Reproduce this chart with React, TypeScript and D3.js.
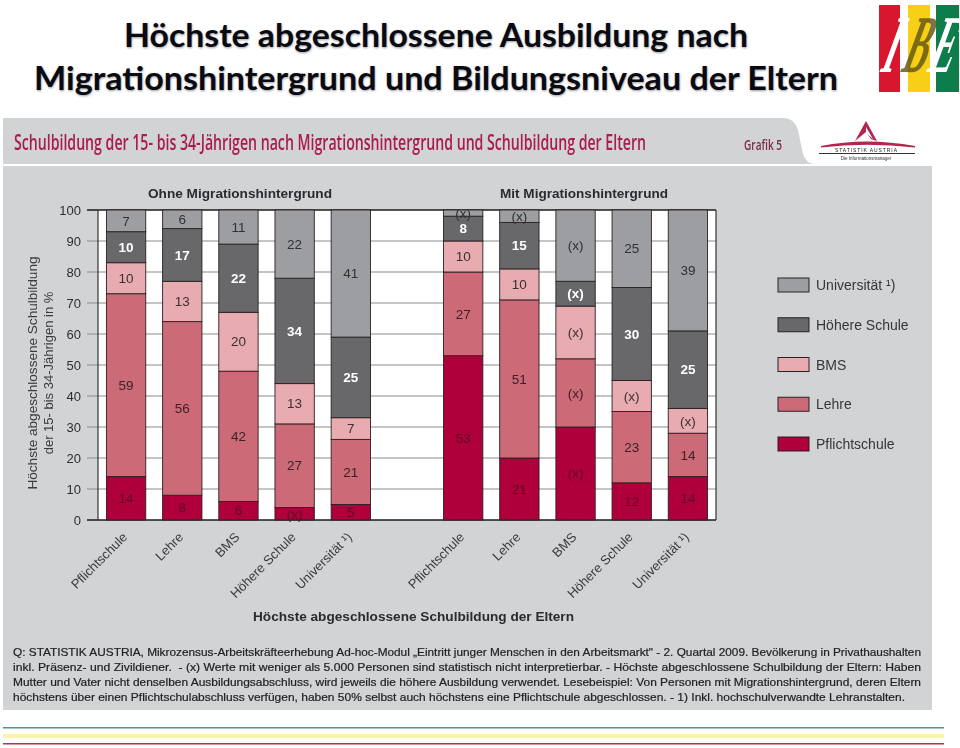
import React from "react";
import * as d3 from "d3";

const slots = ["o1","o2","o3","o4","o5","gap","m1","m2","m3","m4","m5"];
const categories = ["Pflichtschule","Lehre","BMS","Höhere Schule","Universität ¹)","","Pflichtschule","Lehre","BMS","Höhere Schule","Universität ¹)"];
const pflicht = [14,8,6,4,5,0,53,20,30,12,14];
const lehre = [59,56,42,27,21,0,27,51,22,23,14];
const bms = [10,13,19,13,7,0,10,10,17,10,8];
const hoehere = [10,17,22,34,26,0,8,15,8,30,25];
const uni = [7,6,11,22,41,0,2,4,23,25,39];
const pflichtLabels = ["14","8","6","(x)","5","","53","21","(x)","12","14"];
const lehreLabels = ["59","56","42","27","21","","27","51","(x)","23","14"];
const bmsLabels = ["10","13","20","13","7","","10","10","(x)","(x)","(x)"];
const hoehereLabels = ["10","17","22","34","25","","8","15","(x)","30","25"];
const uniLabels = ["7","6","11","22","41","","(x)","(x)","(x)","25","39"];
const seriesNames = ["Pflichtschule","Lehre","BMS","Höhere Schule","Universität ¹)"];
const seriesColors = ["#b0003a","#cc6b78","#e8abb0","#67686b","#9c9ea2"];
const labelColors = ["#5a0f28","#3a2226","#3a3033","#ffffff","#2f3033"];
const yTicks = [0,10,20,30,40,50,60,70,80,90,100];
const footer = [
  "Q: STATISTIK AUSTRIA, Mikrozensus-Arbeitskräfteerhebung Ad-hoc-Modul „Eintritt junger Menschen in den Arbeitsmarkt\" - 2. Quartal 2009. Bevölkerung in Privathaushalten",
  "inkl. Präsenz- und Zivildiener.  - (x) Werte mit weniger als 5.000 Personen sind statistisch nicht interpretierbar. - Höchste abgeschlossene Schulbildung der Eltern: Haben",
  "Mutter und Vater nicht denselben Ausbildungsabschluss, wird jeweils die höhere Ausbildung verwendet. Lesebeispiel: Von Personen mit Migrationshintergrund, deren Eltern",
  "höchstens über einen Pflichtschulabschluss verfügen, haben 50% selbst auch höchstens eine Pflichtschule abgeschlossen. - 1) Inkl. hochschulverwandte Lehranstalten.",
];
const footerWidths = [908,908,908,892];

const valueSeries = [pflicht,lehre,bms,hoehere,uni];
const labelSeries = [pflichtLabels,lehreLabels,bmsLabels,hoehereLabels,uniLabels];
const rows = slots.map((s,i)=>{
  const r: any = {slot:s};
  seriesNames.forEach((n,k)=>{ r[n]=valueSeries[k][i]; });
  return r;
});
const sans = "'Liberation Sans', Arial, sans-serif";

export default function App() {
  const x = d3.scaleBand().domain(slots).range([98,716]).paddingInner(0.3).paddingOuter(0.15);
  const y = d3.scaleLinear().domain([0,100]).range([520,210]);
  const stacked = d3.stack().keys(seriesNames)(rows as any);
  const legendY = d3.scalePoint().domain([...seriesNames].reverse()).range([285,444]);
  const titleLines = [
    {t:"Höchste abgeschlossene Ausbildung nach", y:47, w:624},
    {t:"Migrationshintergrund und Bildungsniveau der Eltern", y:90, w:804},
  ];
  const logoLetters = [
    {t:"I", x:885, fill:"#fff", o:1},
    {t:"B", x:911, fill:"#5d5212", o:0.8},
    {t:"E", x:937, fill:"#fff", o:1},
  ];
  return (
    <svg width={960} height={748} viewBox="0 0 960 748" style={{position:"absolute",left:0,top:0,display:"block"}}>
      <defs>
        <filter id="soft" x="-5%" y="-5%" width="110%" height="110%"><feGaussianBlur stdDeviation="0.35"/></filter>
        <filter id="soft2" x="-5%" y="-20%" width="110%" height="140%"><feGaussianBlur stdDeviation="1.1"/></filter>
      </defs>
      <rect width={960} height={748} fill="#fff"/>
      {titleLines.map(l=>(
        <g key={l.t} fontFamily="Lato, sans-serif" fontWeight={700} fontSize={33}>
          <text x={436.5} y={l.y+1} textAnchor="middle" fill="#9a9a9a" filter="url(#soft2)" textLength={l.w} lengthAdjust="spacingAndGlyphs">{l.t}</text>
          <text x={436} y={l.y} textAnchor="middle" fill="#0a0a12" textLength={l.w} lengthAdjust="spacingAndGlyphs">{l.t}</text>
        </g>
      ))}
      {/* IBE logo */}
      <g filter="url(#soft)">
        <rect x={879} y={5} width={21} height={87} fill="#d8122f"/>
        <rect x={908} y={5} width={22} height={87} fill="#f6cf12"/>
        <rect x={936} y={5} width={23} height={87} fill="#0f7d4c"/>
        <g fontFamily="'Liberation Serif', serif" fontWeight={700} fontSize={82} textAnchor="middle">
          {logoLetters.map(l=>(
            <text key={l.t} transform={`translate(${l.x},72) skewX(-20) scale(0.42,1)`} fill={l.fill} opacity={l.o}>{l.t}</text>
          ))}
        </g>
      </g>
      <g filter="url(#soft)">
        {/* panel */}
        <path d="M3 118 H784 Q794 118 798 130 L803 154 Q806 164 816 164 H3 Z" fill="#d1d3d4"/>
        <rect x={3} y={166} width={929} height={544} fill="#d1d3d4"/>
        <text x={14} y={150} fontFamily="'Open Sans',sans-serif" fontWeight={600} fontSize={22} fill="#ab1a4b" textLength={632} lengthAdjust="spacingAndGlyphs">Schulbildung der 15- bis 34-Jährigen nach Migrationshintergrund und Schulbildung der Eltern</text>
        <text x={744} y={150} fontFamily="'Open Sans',sans-serif" fontWeight={600} fontSize={15} fill="#7c2b42" textLength={38} lengthAdjust="spacingAndGlyphs">Grafik 5</text>
        {/* Statistik Austria logo */}
        <path d="M866 121 L855 141 L866 132 L871 139 L877 141 Z" fill="#b2254f"/>
        <path d="M866 127 L873 139 L866 133 Z" fill="#fff"/>
        <path d="M821 146 Q866 137 915 146 L915 147.5 Q866 142 821 147.5 Z" fill="#b2254f"/>
        <text x={866} y={151.5} textAnchor="middle" fontFamily={sans} fontSize={5} fill="#222" textLength={62} lengthAdjust="spacing">STATISTIK AUSTRIA</text>
        <rect x={819} y={153} width={96} height={1} fill="#333"/>
        <text x={866} y={160} textAnchor="middle" fontFamily={sans} fontSize={4.5} fill="#333">Die Informationsmanager</text>

        {/* plot */}
        <text x={240} y={198} textAnchor="middle" fontFamily={sans} fontWeight={700} fontSize={13} fill="#2a2b30" textLength={184} lengthAdjust="spacingAndGlyphs">Ohne Migrationshintergrund</text>
        <text x={584} y={198} textAnchor="middle" fontFamily={sans} fontWeight={700} fontSize={13} fill="#2a2b30" textLength={168} lengthAdjust="spacingAndGlyphs">Mit Migrationshintergrund</text>
        <rect x={98} y={y(100)} width={618} height={y(0)-y(100)} fill="#fff"/>
        {yTicks.map(t=>(
          <g key={t}>
            <line x1={87} x2={716} y1={y(t)} y2={y(t)} stroke={t===0||t===100?"#1c1c1c":"#8a8b8d"} strokeWidth={t===0||t===100?1.3:1}/>
            <text x={81} y={y(t)+5} textAnchor="end" fontFamily={sans} fontSize={13} fill="#2d2e30">{t}</text>
          </g>
        ))}
        <line x1={98} x2={98} y1={210} y2={520} stroke="#333" strokeWidth={1.2}/>
        <line x1={716} x2={716} y1={210} y2={520} stroke="#333" strokeWidth={1.2}/>
        {stacked.map((s,k)=>s.map((d,i)=>{
          const slot = slots[i];
          if (slot==="gap") return null;
          const top = y(d[1]), bot = y(d[0]);
          return (
            <g key={seriesNames[k]+slot}>
              <rect x={x(slot)} y={top} width={x.bandwidth()} height={bot-top} fill={seriesColors[k]} stroke="#2a2022" strokeWidth={0.9}/>
              <text x={x(slot)!+x.bandwidth()/2} y={(top+bot)/2+4.7} textAnchor="middle" fontFamily={sans} fontSize={13.5} fill={labelColors[k]} fontWeight={k===3?700:400}>{labelSeries[k][i]}</text>
            </g>
          );
        }))}
        {slots.map((s,i)=>s==="gap"?null:(
          <text key={s} transform={`translate(${x(s)!+x.bandwidth()/2-2},${534}) rotate(-45)`} textAnchor="end" dominantBaseline="hanging" dy={-4} fontFamily={sans} fontSize={13} fill="#3a3b3e">{categories[i]}</text>
        ))}
        <g transform="translate(37,373) rotate(-90)" fontFamily={sans} fontSize={13} fill="#3a3b3e" textAnchor="middle">
          <text textLength={233} lengthAdjust="spacingAndGlyphs">Höchste abgeschlossene Schulbildung</text>
          <text y={16}>der 15- bis 34-Jährigen in %</text>
        </g>
        <text x={413.5} y={621} textAnchor="middle" fontFamily={sans} fontWeight={700} fontSize={13.5} fill="#2a2b30" textLength={321} lengthAdjust="spacingAndGlyphs">Höchste abgeschlossene Schulbildung der Eltern</text>
        {/* legend */}
        {seriesNames.map((n,k)=>(
          <g key={n} transform={`translate(0,${legendY(n)})`}>
            <rect x={778} y={-7} width={31} height={14} fill={seriesColors[k]} stroke="#2a2022" strokeWidth={1}/>
            <text x={816} y={5} fontFamily={sans} fontSize={14} fill="#35363a">{n}</text>
          </g>
        ))}
        {/* footnote */}
        {footer.map((f,i)=>(
          <text key={i} x={13} y={656+i*15} fontFamily={sans} fontSize={11} fill="#222" stroke="#222" strokeWidth={0.2} textLength={footerWidths[i]} lengthAdjust="spacingAndGlyphs" xmlSpace="preserve">{f}</text>
        ))}
      </g>
      {/* footer rules */}
      <rect x={3} y={727} width={941} height={1.5} fill="#3f9f7c"/>
      <rect x={3} y={734} width={941} height={4} fill="#fbf4a6"/>
      <rect x={3} y={743} width={941} height={1.5} fill="#b8343c"/>
    </svg>
  );
}
